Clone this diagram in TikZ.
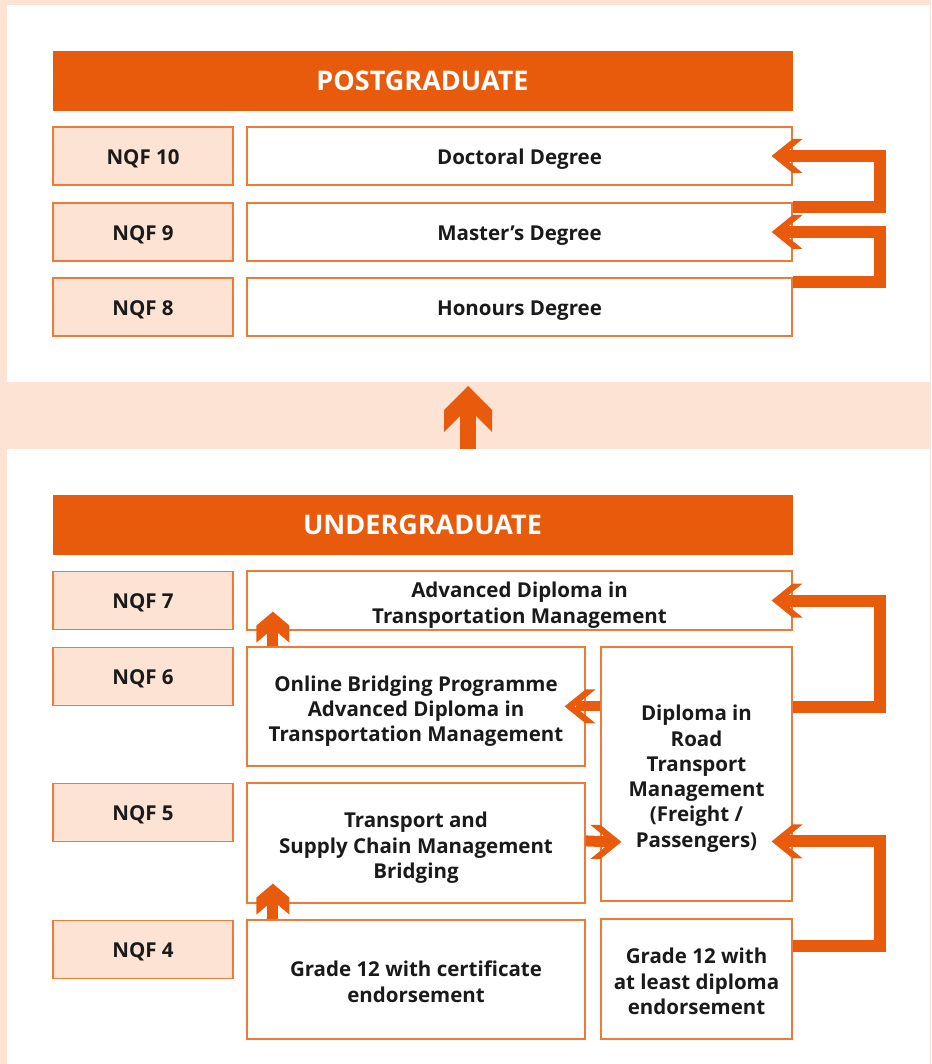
\documentclass[tikz,border=0pt]{standalone}
\usepackage{fontspec}
\setmainfont{Open Sans}
\usetikzlibrary{calc}
\definecolor{org}{HTML}{E95B0C}
\definecolor{peach}{HTML}{FCE3D3}
\definecolor{bord}{HTML}{EE7A3A}
\definecolor{ink}{HTML}{1A1A1A}
\newcommand\mytopstrut{\rule{0pt}{22.5pt}}
\newcommand\mymltop{\rule{0pt}{26pt}}
\newcommand\mymlbot{\rule[-6pt]{0pt}{1pt}}
\newcommand\mybotstrut{\rule[-6pt]{0pt}{1pt}}
\newcommand\myhtopstrut{\rule{0pt}{24.5pt}}
\newcommand\myhbotstrut{\rule[-5pt]{0pt}{1pt}}
\tikzset{
  hdr/.style={fill=org, draw=org, text=white, font=\fontsize{27}{32}\selectfont\bfseries,
    minimum width=739pt, minimum height=59pt, inner sep=0pt,
    execute at begin node=\myhtopstrut, execute at end node=\myhbotstrut},
  nqf/.style={fill=peach, draw=bord, line width=1.4pt, text=ink,
    font=\fontsize{20.5}{25.3}\selectfont\bfseries,
    minimum width=180pt, minimum height=58pt, inner sep=0pt,
    execute at begin node=\mytopstrut, execute at end node=\mybotstrut},
  wbox/.style={fill=white, draw=bord, line width=1.2pt, text=ink,
    font=\fontsize{20.5}{25.3}\selectfont\bfseries, align=center, inner sep=0pt},
  fat/.style={draw=org, line width=12pt},
  headS/.pic={\fill[org] (0,0) -- (-21,17) -- (-31,17) -- (-10,0) -- (-31,-17) -- (-21,-17) -- cycle;},
  headU/.pic={\fill[org] (0,0) -- (-14,16.5) -- (-31,16.5) -- (-17,0) -- (-31,-16.5) -- (-14,-16.5) -- cycle;},
  headB/.pic={\fill[org] (0,0) -- (-24,24) -- (-46,24) -- (-22,0) -- (-46,-24) -- (-24,-24) -- cycle;},
}
\begin{document}
\begin{tikzpicture}[x=1pt,y=-1pt]
\useasboundingbox (0,0) rectangle (931,1064);
\fill[peach] (0,0) rectangle (931,1064);
\fill[white] (7,5) rectangle (930,382);
\fill[white] (7,449) rectangle (930,1064);
\coordinate (bigbase) at (468,449);

% postgraduate
\node[hdr] (pg) at (422.5,80.5) {POSTGRADUATE};
\node[nqf] (n10) at (143,156) {NQF 10};
\node[nqf] (n9) at (143,232) {NQF 9};
\node[nqf] (n8) at (143,307) {NQF 8};
\node[wbox, minimum width=545pt, minimum height=58pt] (doc) at (519.5,156) {\mytopstrut Doctoral Degree\mybotstrut};
\node[wbox, minimum width=545pt, minimum height=58pt] (mas) at (519.5,232) {\mytopstrut Master’s Degree\mybotstrut};
\node[wbox, minimum width=545pt, minimum height=58pt] (hon) at (519.5,307) {\mytopstrut Honours Degree\mybotstrut};

% undergraduate
\node[hdr] (ug) at (422.5,524.5) {UNDERGRADUATE};
\node[nqf] (n7) at (143,600.5) {NQF 7};
\node[nqf] (n6) at (143,676.5) {NQF 6};
\node[nqf] (n5) at (143,812.5) {NQF 5};
\node[nqf] (n4) at (143,949.5) {NQF 4};
\node[wbox, minimum width=545pt, minimum height=59pt] (adv) at (519.5,600.5) {\mymltop Advanced Diploma in\\Transportation Management\mymlbot};
\node[wbox, minimum width=338pt, minimum height=119pt] (onl) at (416,706.5) {\mymltop Online Bridging Programme\\Advanced Diploma in\\Transportation Management\mymlbot};
\node[wbox, minimum width=338pt, minimum height=120pt] (trn) at (416,843) {\mymltop Transport and\\Supply Chain Management\\Bridging\mymlbot};
\node[wbox, minimum width=338pt, minimum height=119pt] (g12c) at (416,979.5) {\mymltop Grade 12 with certificate\\endorsement\mymlbot};
\node[wbox, minimum width=191pt, minimum height=254pt] (dip) at (696.5,774) {\mymltop Diploma in\\Road\\Transport\\Management\\(Freight /\\Passengers)\mymlbot};
\node[wbox, minimum width=191pt, minimum height=120pt] (g12d) at (696.5,979) {\mymltop Grade 12 with\\at least diploma\\endorsement\mymlbot};

% loop arrows on the right
\draw[fat] ($(mas.north east)+(0,4.5)$) -| ($(doc.east)+(87,0)$) -- ($(doc.east)+(-11,0)$);
\pic[rotate=180] at ($(doc.east)+(-21,0)$) {headS};
\draw[fat] ($(hon.north east)+(0,4.5)$) -| ($(mas.east)+(87,0)$) -- ($(mas.east)+(-11,0)$);
\pic[rotate=180] at ($(mas.east)+(-21,0)$) {headS};
\draw[fat] ($(dip.north east)+(0,60.5)$) -| ($(adv.east)+(87,0)$) -- ($(adv.east)+(-11,0)$);
\pic[rotate=180] at ($(adv.east)+(-21,0)$) {headS};
\draw[fat] ($(g12d.north east)+(0,27.5)$) -| ($(dip.north east)+(87,195)$) -- ($(dip.north east)+(-11,195)$);
\pic[rotate=180] at ($(dip.north east)+(-21,195)$) {headS};

% diploma -> online bridging
\draw[fat, line width=10pt] ($(dip.north west)+(0,60)$) -- ($(onl.north east)+(-10,60)$);
\pic[rotate=180] at ($(onl.north east)+(-21,60)$) {headS};
% transport -> diploma
\draw[fat, line width=11pt] ($(trn.north east)+(0,58.5)$) -- ($(dip.north west)+(11,195.5)$);
\pic at ($(dip.north west)+(21,195.5)$) {headS};

% up arrows
\draw[fat, line width=11pt] ($(onl.north west)+(26.5,0)$) -- ($(adv.south west)+(26.5,-6)$);
\pic[rotate=90] at ($(adv.south west)+(26.5,-19)$) {headU};
\draw[fat, line width=11pt] ($(g12c.north west)+(26.5,0)$) -- ($(trn.south west)+(26.5,-6)$);
\pic[rotate=90] at ($(trn.south west)+(26.5,-20)$) {headU};

% big arrow between levels
\draw[fat, line width=16pt] (bigbase) -- ($(bigbase)+(0,-41)$);
\pic[rotate=90] at ($(bigbase)+(0,-63)$) {headB};
\end{tikzpicture}
\end{document}
